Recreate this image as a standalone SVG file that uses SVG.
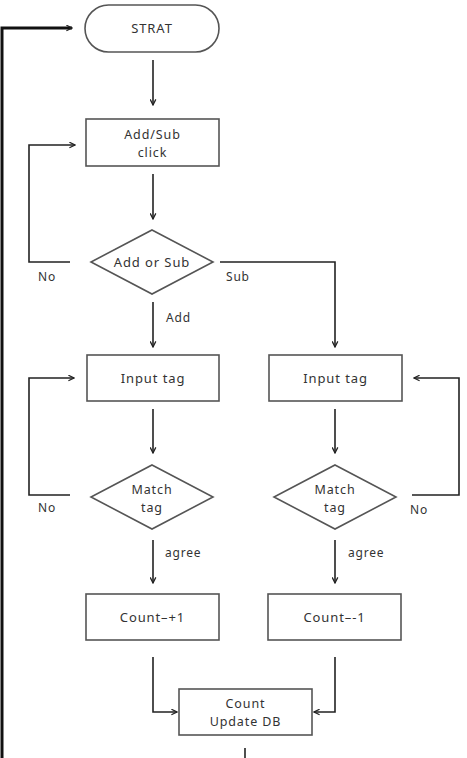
<svg xmlns="http://www.w3.org/2000/svg" width="467" height="758" viewBox="0 0 467 758">
<style>
.box{fill:#fff;stroke:#555;stroke-width:1.6}
.ln{fill:none;stroke:#222;stroke-width:1.6}
.thick{fill:none;stroke:#111;stroke-width:3}
.t{font-family:"Noto Sans","Noto Sans CJK KR",sans-serif;font-size:13px;letter-spacing:0.9px;fill:#333;text-anchor:middle}
.t2{font-size:12.5px}
.lb{font-family:"Noto Sans","Noto Sans CJK KR",sans-serif;font-size:12px;letter-spacing:0.8px;fill:#333}
</style>
<defs>
<marker id="ah" viewBox="0 0 10 10" refX="9" refY="5" markerWidth="7" markerHeight="7" orient="auto" markerUnits="userSpaceOnUse">
<path d="M1,1 L9,5 L1,9" fill="none" stroke="#222" stroke-width="1.8"/>
</marker>
</defs>
<rect width="467" height="758" fill="#fff"/>
<g id="connectors">
<path class="thick" d="M2,758 V28 H72" marker-end="url(#ah)"/>
<path class="ln" d="M153,60 V105" marker-end="url(#ah)"/>
<path class="ln" d="M153,174 V219" marker-end="url(#ah)"/>
<path class="ln" d="M70,262 H29 V145 H75" marker-end="url(#ah)"/>
<path class="ln" d="M220,262 H335 V347" marker-end="url(#ah)"/>
<path class="ln" d="M153,302 V347" marker-end="url(#ah)"/>
<path class="ln" d="M153,409 V453" marker-end="url(#ah)"/>
<path class="ln" d="M335,409 V453" marker-end="url(#ah)"/>
<path class="ln" d="M70,495 H29 V378 H74" marker-end="url(#ah)"/>
<path class="ln" d="M412,495 H459 V378 H414" marker-end="url(#ah)"/>
<path class="ln" d="M153,540 V583" marker-end="url(#ah)"/>
<path class="ln" d="M335,540 V583" marker-end="url(#ah)"/>
<path class="ln" d="M153,657 V712 H177" marker-end="url(#ah)"/>
<path class="ln" d="M335,657 V712 H314" marker-end="url(#ah)"/>
<path class="ln" d="M245,748 V758"/>
<text class="lb" x="38" y="281">No</text>
<text class="lb" x="226" y="281">Sub</text>
<text class="lb" x="166" y="322">Add</text>
<text class="lb" x="38" y="512">No</text>
<text class="lb" x="410" y="514">No</text>
<text class="lb" x="165" y="557">agree</text>
<text class="lb" x="348" y="557">agree</text>
</g>
<g id="start">
<rect class="box" x="85" y="5" width="134" height="47" rx="23.5"/>
<text class="t" x="152" y="33">STRAT</text>
</g>
<g id="addsub-click">
<rect class="box" x="86" y="119" width="133" height="47"/>
<text class="t t2" x="152.5" y="139">Add/Sub</text>
<text class="t t2" x="152.5" y="157">click</text>
</g>
<g id="add-or-sub">
<polygon class="box" points="152,230 213,262 152,294 91,262"/>
<text class="t" x="152" y="267">Add or Sub</text>
</g>
<g id="input-left">
<rect class="box" x="87" y="355" width="132" height="46"/>
<text class="t" x="153" y="383">Input tag</text>
</g>
<g id="input-right">
<rect class="box" x="269" y="355" width="133" height="46"/>
<text class="t" x="335.5" y="383">Input tag</text>
</g>
<g id="match-left">
<polygon class="box" points="152,465 213,497 152,529 91,497"/>
<text class="t t2" x="152" y="494">Match</text>
<text class="t t2" x="152" y="512">tag</text>
</g>
<g id="match-right">
<polygon class="box" points="335,465 396,497 335,529 274,497"/>
<text class="t t2" x="335" y="494">Match</text>
<text class="t t2" x="335" y="512">tag</text>
</g>
<g id="count-plus">
<rect class="box" x="86" y="594" width="133" height="46"/>
<text class="t" x="152.5" y="622">Count–+1</text>
</g>
<g id="count-minus">
<rect class="box" x="268" y="594" width="133" height="46"/>
<text class="t" x="334.5" y="622">Count–-1</text>
</g>
<g id="update-db">
<rect class="box" x="179" y="689" width="133" height="46"/>
<text class="t t2" x="245.5" y="708">Count</text>
<text class="t t2" x="245.5" y="726">Update DB</text>
</g>
</svg>
